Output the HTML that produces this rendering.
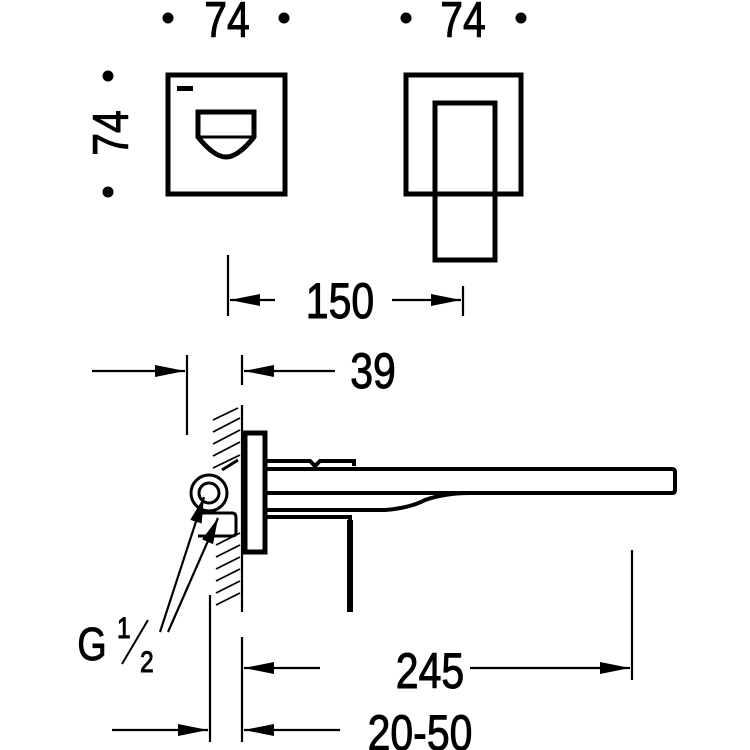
<!DOCTYPE html>
<html><head><style>html,body{margin:0;padding:0;background:#fff}svg{display:block}</style></head>
<body>
<svg width="750" height="750" viewBox="0 0 750 750" xmlns="http://www.w3.org/2000/svg" font-family="Liberation Sans, sans-serif">
<defs>
<marker id="a" viewBox="0 0 30 12" refX="30" refY="6" markerWidth="30" markerHeight="12" markerUnits="userSpaceOnUse" orient="auto"><path d="M0,0 L30,6 L0,12 z" fill="#000"/></marker>
<marker id="b" viewBox="0 0 26 12" refX="26" refY="6" markerWidth="26" markerHeight="12" markerUnits="userSpaceOnUse" orient="auto"><path d="M0,0 L26,6 L0,12 z" fill="#000"/></marker>
</defs>
<g fill="#000">
<circle cx="168" cy="18" r="5.5"/><circle cx="284" cy="18" r="5.5"/>
<circle cx="406" cy="18" r="5.5"/><circle cx="521" cy="18" r="5.5"/>
<circle cx="108" cy="76" r="5.5"/><circle cx="108" cy="192" r="5.5"/>
</g>
<g font-size="50" fill="#000" stroke="#000" stroke-width="1">
<text transform="translate(227,37) scale(0.82,1)" text-anchor="middle">74</text>
<text transform="translate(463,37) scale(0.82,1)" text-anchor="middle">74</text>
<text transform="translate(128,133) rotate(-90) scale(0.82,1)" text-anchor="middle">74</text>
<text transform="translate(340,318) scale(0.82,1)" text-anchor="middle">150</text>
<text transform="translate(373,388) scale(0.82,1)" text-anchor="middle">39</text>
<text transform="translate(430,688) scale(0.82,1)" text-anchor="middle">245</text>
<text transform="translate(420,750) scale(0.82,1)" text-anchor="middle">20-50</text>
<text transform="translate(92,660) scale(0.82,1)" text-anchor="middle" font-size="46">G</text>
<text transform="translate(117,638) scale(0.82,1)" font-size="30">1</text>
<text transform="translate(140,672) scale(0.82,1)" font-size="30">2</text>
</g>
<line x1="122" y1="664" x2="148" y2="620" stroke="#000" stroke-width="2"/>
<g fill="none" stroke="#000" stroke-width="5">
<rect x="168" y="75" width="117" height="119"/>
<rect x="406" y="75" width="115" height="119"/>
<rect x="435" y="103" width="60" height="157"/>
<path d="M198,112 H254 V137 Q238,157 226,157 Q214,157 198,137 Z"/>
<line x1="198" y1="137" x2="254" y2="137" stroke-width="3"/>
</g>
<rect x="177" y="86" width="16" height="5" fill="#000"/>
<g stroke="#000" stroke-width="2.2" fill="none">
<line x1="228" y1="255" x2="228" y2="316"/>
<line x1="463" y1="286" x2="463" y2="316"/>
<line x1="275" y1="300" x2="230" y2="300" marker-end="url(#a)"/>
<line x1="392" y1="300" x2="461" y2="300" marker-end="url(#a)"/>
<line x1="187" y1="355" x2="187" y2="435"/>
<line x1="242" y1="355" x2="242" y2="385"/>
<line x1="92" y1="371" x2="185" y2="371" marker-end="url(#a)"/>
<line x1="335" y1="371" x2="244" y2="371" marker-end="url(#a)"/>
<line x1="242" y1="405" x2="242" y2="612"/>
<line x1="242" y1="637" x2="242" y2="742"/>
<line x1="210" y1="595" x2="210" y2="742"/>
<line x1="632" y1="550" x2="632" y2="680"/>
<line x1="320" y1="668" x2="244" y2="668" marker-end="url(#a)"/>
<line x1="470" y1="668" x2="630" y2="668" marker-end="url(#a)"/>
<line x1="112" y1="730" x2="208" y2="730" marker-end="url(#a)"/>
<line x1="340" y1="730" x2="244" y2="730" marker-end="url(#a)"/>
<line x1="160" y1="632" x2="204" y2="497" marker-end="url(#b)"/>
<line x1="168" y1="632" x2="218" y2="518" marker-end="url(#b)"/>
</g>
<g stroke="#000" stroke-width="1.8">
<line x1="213" y1="420" x2="238" y2="408"/><line x1="213" y1="432" x2="240" y2="418"/>
<line x1="213" y1="444" x2="240" y2="430"/><line x1="213" y1="456" x2="240" y2="442"/>
<line x1="213" y1="468" x2="240" y2="455"/>
<line x1="216" y1="545" x2="240" y2="533"/><line x1="216" y1="557" x2="240" y2="545"/>
<line x1="216" y1="569" x2="240" y2="557"/><line x1="216" y1="581" x2="240" y2="569"/>
<line x1="216" y1="593" x2="240" y2="581"/><line x1="216" y1="605" x2="240" y2="593"/>
</g>
<g fill="none" stroke="#000" stroke-width="4">
<rect x="245" y="433" width="20" height="119" stroke-width="5"/>
<path d="M265,469 H672 Q675,469 675,472 V490 Q675,493 672,493 H265"/>
<path d="M265,461 H310 L315,466 L320,461 H354 V466"/>
<path d="M265,510 H385 Q410,508 425,500 Q445,493 470,493"/>
<path d="M265,517 H350 V612" />
<line x1="350" y1="520" x2="350" y2="612" stroke-width="6"/>
<circle cx="209" cy="493" r="18" stroke-width="3"/>
<circle cx="209" cy="493" r="10" stroke-width="3"/>
<path d="M198,513 H232 Q236,513 236,518 V532 Q236,536 232,536 H198" stroke-width="3"/>
<path d="M222,470 L238,460" stroke-width="3"/>
</g>
</svg>
</body></html>
